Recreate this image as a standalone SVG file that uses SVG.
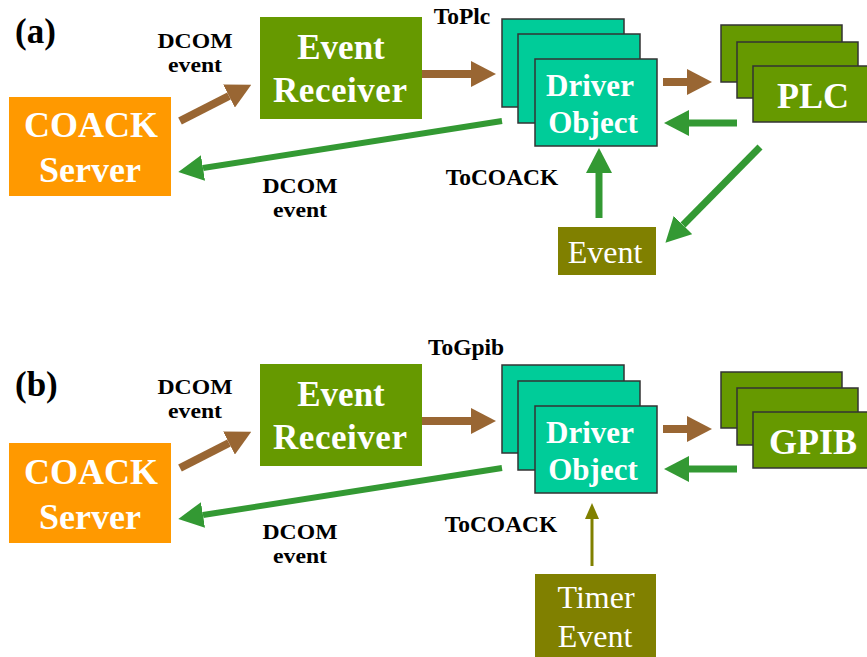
<svg xmlns="http://www.w3.org/2000/svg" width="867" height="657" viewBox="0 0 867 657">
<style>
text{font-family:"Liberation Serif","DejaVu Serif",serif;text-anchor:middle}
.lbl{font-size:23.5px;font-weight:bold;fill:#000}
.dc{font-size:21.5px;font-weight:bold;fill:#000}
.pan{font-size:35px;font-weight:bold;fill:#000;text-anchor:start}
.big{font-size:36px;font-weight:bold;fill:#fff}
.er{font-size:35px;font-weight:bold;fill:#fff}
.drv{font-size:31px;font-weight:bold;fill:#fff}
.ev{font-size:32px;fill:#fff}
.orange{fill:#FF9900}
.green{fill:#669900}
.stack{fill:#669900;stroke:#333;stroke-width:1.5}
.teal{fill:#00CC99;stroke:#333;stroke-width:1.5}
.olive{fill:#808000}
.ab{stroke:#996633;stroke-width:8;fill:none;marker-end:url(#hb)}
.ag{stroke:#339933;stroke-width:7;fill:none;marker-end:url(#hg)}
.ao{stroke:#808000;stroke-width:3;fill:none;marker-end:url(#ho)}
</style>
<defs>
<marker id="hb" markerUnits="userSpaceOnUse" markerWidth="25" markerHeight="26" refX="0" refY="13" orient="auto"><path d="M0,0 L25,13 L0,26 z" fill="#996633"/></marker>
<marker id="hg" markerUnits="userSpaceOnUse" markerWidth="25" markerHeight="26" refX="0" refY="13" orient="auto"><path d="M0,0 L25,13 L0,26 z" fill="#339933"/></marker>
<marker id="ho" markerUnits="userSpaceOnUse" markerWidth="16" markerHeight="14" refX="0" refY="7" orient="auto"><path d="M0,0 L16,7 L0,14 z" fill="#808000"/></marker>
</defs>
<rect width="867" height="657" fill="#fff"/>

<g id="labels">
<text class="pan" x="15" y="43">(a)</text>
<text class="dc" x="195" y="48" textLength="75" lengthAdjust="spacingAndGlyphs">DCOM</text>
<text class="dc" x="195" y="72" textLength="54" lengthAdjust="spacingAndGlyphs">event</text>
<text class="dc" x="300" y="193" textLength="75" lengthAdjust="spacingAndGlyphs">DCOM</text>
<text class="dc" x="300" y="217" textLength="54" lengthAdjust="spacingAndGlyphs">event</text>
<text class="lbl" x="462" y="24">ToPlc</text>
<text class="lbl" x="502" y="185">ToCOACK</text>

<text class="pan" x="15" y="396">(b)</text>
<text class="dc" x="195" y="394" textLength="75" lengthAdjust="spacingAndGlyphs">DCOM</text>
<text class="dc" x="195" y="418" textLength="54" lengthAdjust="spacingAndGlyphs">event</text>
<text class="dc" x="300" y="539" textLength="75" lengthAdjust="spacingAndGlyphs">DCOM</text>
<text class="dc" x="300" y="563" textLength="54" lengthAdjust="spacingAndGlyphs">event</text>
<text class="lbl" x="466" y="355">ToGpib</text>
<text class="lbl" x="501" y="532">ToCOACK</text>
</g>

<g id="connectors">
<path class="ab" d="M180,121 L229,96"/>
<path class="ab" d="M422,74 L471,74"/>
<path class="ab" d="M663,82 L687,82"/>
<path class="ag" d="M737,123 L689,123"/>
<path class="ag" style="stroke-width:6" d="M502,121 L203,168"/>
<path class="ag" d="M760,147 L683,225"/>
<path class="ag" d="M599,218 L599,173"/>

<path class="ab" d="M180,468 L229,443"/>
<path class="ab" d="M422,421 L471,421"/>
<path class="ab" d="M663,429 L687,429"/>
<path class="ag" d="M737,469 L689,469"/>
<path class="ag" style="stroke-width:6" d="M502,468 L203,515"/>
<path class="ao" d="M592,566 L592,519"/>
</g>

<g id="coack-a">
<rect class="orange" x="9" y="97" width="162" height="99"/>
<text class="big" x="91" y="137">COACK</text>
<text class="big" x="90" y="182">Server</text>
</g>
<g id="receiver-a">
<rect class="green" x="260" y="17" width="162" height="102"/>
<text class="er" x="341" y="59">Event</text>
<text class="er" x="340" y="102" textLength="134">Receiver</text>
</g>
<g id="driver-a">
<rect class="teal" x="502" y="19" width="122" height="88"/>
<rect class="teal" x="518" y="34" width="122" height="89"/>
<rect class="teal" x="535" y="59" width="122" height="87"/>
<text class="drv" x="590" y="96">Driver</text>
<text class="drv" x="593" y="133">Object</text>
</g>
<g id="plc-a">
<rect class="stack" x="721" y="25" width="121" height="57"/>
<rect class="stack" x="737" y="42" width="121" height="56"/>
<rect class="stack" x="753" y="66" width="125" height="56"/>
<text class="big" x="813" y="108">PLC</text>
</g>
<g id="event-a">
<rect class="olive" x="558" y="227" width="98" height="48"/>
<text class="ev" x="605" y="263">Event</text>
</g>

<g id="coack-b">
<rect class="orange" x="9" y="443" width="162" height="100"/>
<text class="big" x="91" y="484">COACK</text>
<text class="big" x="90" y="529">Server</text>
</g>
<g id="receiver-b">
<rect class="green" x="260" y="364" width="162" height="102"/>
<text class="er" x="341" y="406">Event</text>
<text class="er" x="340" y="449" textLength="134">Receiver</text>
</g>
<g id="driver-b">
<rect class="teal" x="502" y="365" width="122" height="88"/>
<rect class="teal" x="518" y="381" width="122" height="89"/>
<rect class="teal" x="535" y="406" width="122" height="87"/>
<text class="drv" x="590" y="443">Driver</text>
<text class="drv" x="593" y="480">Object</text>
</g>
<g id="gpib-b">
<rect class="stack" x="721" y="372" width="121" height="56"/>
<rect class="stack" x="737" y="388" width="121" height="57"/>
<rect class="stack" x="753" y="412" width="125" height="56"/>
<text class="big" x="813" y="454">GPIB</text>
</g>
<g id="timer-b">
<rect class="olive" x="535" y="574" width="121" height="90"/>
<text class="ev" x="596" y="608">Timer</text>
<text class="ev" x="595" y="647">Event</text>
</g>
</svg>
